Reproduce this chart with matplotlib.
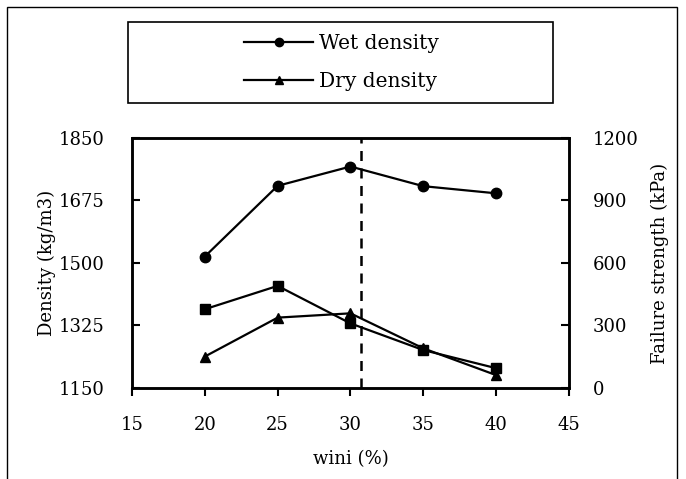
import matplotlib.pyplot as plt
from matplotlib.patches import Rectangle
from matplotlib.lines import Line2D

plt.rcParams['font.family'] = ['DejaVu Serif']

# data
wini = [20, 25, 30, 35, 40]
wet_density = [1518, 1716, 1770, 1715, 1695]
dry_density = [1238, 1347, 1359, 1261, 1186]
failure_strength = [378, 490, 310, 182, 95]
optimum_wini = 30.7

x_ticks = [15, 20, 25, 30, 35, 40, 45]
left_ticks = [1150, 1325, 1500, 1675, 1850]
right_ticks = [0, 300, 600, 900, 1200]

fig = plt.figure(figsize=(6.86, 4.79), dpi=100)
ax = fig.add_axes([0.1924, 0.19, 0.637, 0.522])
ax2 = ax.twinx()

fs = 13
lw = 1.6

ax.plot(wini, wet_density, 'k-', marker='o', ms=7.5, lw=lw, label='Wet density')
ax.plot(wini, dry_density, 'k-', marker='^', ms=7, lw=lw, label='Dry density')
ax2.plot(wini, failure_strength, 'k-', marker='s', ms=6.5, lw=lw)
ax.axvline(optimum_wini, color='k', ls=(0, (4, 3)), lw=1.8)

ax.set_xlim(15, 45)
ax.set_ylim(1150, 1850)
ax2.set_ylim(0, 1200)
ax.set_xticks(x_ticks)
ax.set_yticks(left_ticks)
ax2.set_yticks(right_ticks)

for a in (ax, ax2):
    for s in a.spines.values():
        s.set_linewidth(1.8)
ax.tick_params(axis='x', direction='out', length=6, width=1.5, labelsize=fs, pad=14)
ax.tick_params(axis='y', direction='in', length=6, width=1.5, labelsize=fs, pad=20)
ax2.tick_params(axis='y', direction='in', length=6, width=1.5, labelsize=fs, pad=17)

ax.set_xlabel('wini (%)', fontsize=fs, labelpad=12)
ax.set_ylabel('Density (kg/m3)', fontsize=fs, labelpad=2)
ax2.set_ylabel('Failure strength (kPa)', fontsize=fs, labelpad=9)

# legend with its own frame
fig.patches.append(Rectangle((128 / 686, 1 - 103 / 479), 425 / 686, 81 / 479,
                             transform=fig.transFigure, fill=False, ec='k', lw=1.2))
handles = [Line2D([], [], color='k', lw=lw, marker='o', ms=6),
           Line2D([], [], color='k', lw=lw, marker='^', ms=6)]
fig.legend(handles, ['Wet density', 'Dry density'], loc='center',
           bbox_to_anchor=(0.498, 0.8695), frameon=False, fontsize=14.5,
           handlelength=3.4, handletextpad=0.3, labelspacing=0.95)

# outer border
fig.patches.append(Rectangle((7 / 686, -0.05), 670 / 686, 1 - 7 / 479 + 0.05,
                             transform=fig.transFigure, fill=False, ec='k', lw=1))

fig.savefig('out.png', dpi=100)
